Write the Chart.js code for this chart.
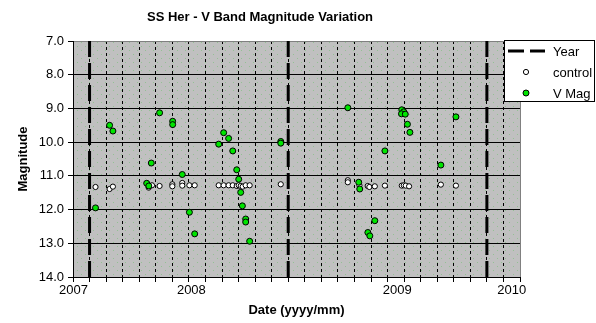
<!DOCTYPE html>
<html>
<head>
<meta charset="utf-8">
<title>SS Her - V Band Magnitude Variation</title>
<script src="https://cdn.jsdelivr.net/npm/chart.js@4/dist/chart.umd.min.js"></script>
<style>
  html, body { margin: 0; padding: 0; background: #fff; }
  canvas { display: block; }
</style>
</head>
<body>
<canvas id="magchart" width="596" height="323"></canvas>
<script>
// x values are months counted from 1 January 2007
const yearMarks = [0, 12, 24];
const dateTicks = ['2007', '2008', '2009', '2010'];
const dateTickPos = [-0.97, 6.15, 18.58, 25.5];

// comparison star
const ctrlDate = [0.36, 1.21, 1.41, 3.57, 3.77, 4.23, 5.0, 5.0, 5.6, 5.6, 6.03, 6.35,
  7.8, 8.1, 8.4, 8.65, 8.89, 9.01, 9.13, 9.25, 9.43, 9.67, 11.55,
  15.6, 15.6, 16.3, 16.8, 16.9, 17.23, 17.84, 18.86, 18.98, 19.1, 19.3, 21.22, 22.13];
const ctrlMag = [11.33, 11.39, 11.32, 11.35, 11.28, 11.30, 11.25, 11.31, 11.21, 11.29, 11.28, 11.28,
  11.28, 11.28, 11.28, 11.28, 11.30, 11.28, 11.30, 11.32, 11.28, 11.28, 11.25,
  11.13, 11.19, 11.28, 11.30, 11.33, 11.31, 11.29, 11.29, 11.28, 11.29, 11.31, 11.26, 11.29];

// SS Her, V band
const vDate = [0.36, 1.21, 1.41, 3.45, 3.58, 3.73, 4.23, 5.02, 5.02, 5.6, 6.03, 6.35,
  7.8, 8.1, 8.4, 8.65, 8.89, 9.01, 9.13, 9.23, 9.43, 9.43, 9.67, 11.55, 11.55,
  15.6, 16.26, 16.32, 16.81, 16.93, 17.23, 17.84, 18.86, 18.98, 18.84, 19.07, 19.2, 19.35, 21.22, 22.13];
const vMag = [11.95, 9.50, 9.67, 11.22, 11.30, 10.62, 9.13, 9.38, 9.48, 10.96, 12.08, 12.72,
  10.06, 9.72, 9.89, 10.26, 10.82, 11.10, 11.49, 11.89, 12.28, 12.37, 12.94, 9.98, 10.03,
  8.98, 11.19, 11.39, 12.68, 12.78, 12.33, 10.26, 9.04, 9.10, 9.16, 9.17, 9.47, 9.71, 10.68, 9.25];

const FONT = "'Liberation Sans', Arial, sans-serif";
const MAG_MIN = 7, MAG_MAX = 14;
const X_MIN = -1, X_MAX = 26;

// vertical year markers, broken apart with null points
const yearLine = [];
yearMarks.forEach(m => {
  yearLine.push({x: m, y: MAG_MIN}, {x: m, y: MAG_MAX}, {x: m, y: null});
});

function dotTile() {
  const c = document.createElement('canvas');
  c.width = 8; c.height = 8;
  const g = c.getContext('2d');
  g.fillStyle = '#c0c0c0';
  g.fillRect(0, 0, 8, 8);
  g.fillStyle = '#94c094';
  g.fillRect(1, 2, 1, 1);
  g.fillRect(5, 6, 1, 1);
  return c;
}

const plotBackground = {
  id: 'plotBackground',
  beforeDraw(chart) {
    const {ctx, chartArea: a} = chart;
    ctx.save();
    ctx.fillStyle = ctx.createPattern(dotTile(), 'repeat');
    ctx.fillRect(a.left, a.top, a.right - a.left, a.bottom - a.top);
    ctx.restore();
  }
};

// boxed legend sitting over the top right corner of the plot
const boxLegend = {
  id: 'boxLegend',
  afterDraw(chart) {
    const ctx = chart.ctx;
    const x0 = 504, y0 = 40, w = 91, h = 62;
    ctx.save();
    ctx.fillStyle = '#fff';
    ctx.fillRect(x0, y0, w, h);
    ctx.strokeStyle = '#000';
    ctx.lineWidth = 1;
    ctx.strokeRect(x0 + 0.5, y0 + 0.5, w - 1, h - 1);
    ctx.font = '13px ' + FONT;
    ctx.textBaseline = 'middle';
    chart.data.datasets.forEach((ds, i) => {
      const y = y0 + 11 + i * 21;
      if (ds.showLine) {
        ctx.strokeStyle = ds.borderColor;
        ctx.lineWidth = ds.borderWidth;
        ctx.setLineDash(ds.borderDash);
        ctx.beginPath();
        ctx.moveTo(508, y);
        ctx.lineTo(545, y);
        ctx.stroke();
        ctx.setLineDash([]);
      } else {
        ctx.beginPath();
        ctx.arc(526, y, ds.pointRadius, 0, Math.PI * 2);
        ctx.fillStyle = ds.backgroundColor;
        ctx.fill();
        ctx.lineWidth = ds.borderWidth;
        ctx.strokeStyle = ds.borderColor;
        ctx.stroke();
      }
      ctx.fillStyle = '#000';
      ctx.fillText(ds.label, 553, y + 1);
    });
    ctx.restore();
  }
};

const ctx = document.getElementById('magchart').getContext('2d');
new Chart(ctx, {
  type: 'scatter',
  data: {
    datasets: [
      {
        label: 'Year',
        data: yearLine,
        showLine: true,
        spanGaps: false,
        borderColor: '#000',
        borderWidth: 3,
        borderDash: [16, 6],
        pointRadius: 0,
        order: 2
      },
      {
        label: 'control',
        data: ctrlDate.map((d, i) => ({x: d, y: ctrlMag[i]})),
        pointStyle: 'circle',
        pointRadius: 2.6,
        backgroundColor: '#ffffff',
        borderColor: '#000',
        borderWidth: 1,
        order: 1
      },
      {
        label: 'V Mag',
        data: vDate.map((d, i) => ({x: d, y: vMag[i]})),
        pointStyle: 'circle',
        pointRadius: 3,
        backgroundColor: '#00e400',
        borderColor: '#000',
        borderWidth: 1,
        order: 0
      }
    ]
  },
  options: {
    responsive: false,
    animation: false,
    devicePixelRatio: 1,
    layout: { padding: { left: 0, right: 76, top: 0, bottom: 0 } },
    plugins: {
      legend: { display: false },
      tooltip: { enabled: false },
      title: {
        display: true,
        text: 'SS Her - V Band Magnitude Variation',
        color: '#000',
        font: { family: FONT, size: 13, weight: 'bold' },
        padding: { top: 10, bottom: 15.4 }
      }
    },
    scales: {
      x: {
        type: 'linear',
        min: X_MIN,
        max: X_MAX,
        afterBuildTicks(axis) {
          const vals = [];
          for (let m = X_MIN; m <= X_MAX; m++) vals.push(m);
          axis.ticks = vals.concat(dateTickPos).sort((a, b) => a - b).map(v => ({value: v}));
        },
        afterFit(scale) { scale.height = 46; },
        ticks: {
          autoSkip: false,
          maxRotation: 0,
          minRotation: 0,
          padding: 1,
          color: '#000',
          font: { family: FONT, size: 13 },
          callback(v) {
            const i = dateTickPos.indexOf(v);
            return i >= 0 ? dateTicks[i] : '';
          }
        },
        grid: {
          lineWidth: 1,
          tickLength: 5,
          color(c) {
            if (!c.tick) return '#000';
            if (dateTickPos.includes(c.tick.value)) return 'rgba(0,0,0,0)';
            return c.tick.value === X_MAX ? '#808080' : '#000';
          },
          tickColor(c) {
            if (c.tick && dateTickPos.includes(c.tick.value)) return 'rgba(0,0,0,0)';
            return '#000';
          }
        },
        border: {
          color: '#000',
          width: 1,
          dash(c) {
            if (!c.tick || c.tick.value === X_MIN || c.tick.value === X_MAX) return [];
            return [3, 3];
          }
        },
        title: {
          display: true,
          text: 'Date (yyyy/mm)',
          color: '#000',
          font: { family: FONT, size: 13, weight: 'bold' },
          padding: { top: 4, bottom: 5 }
        }
      },
      y: {
        reverse: true,
        min: MAG_MIN,
        max: MAG_MAX,
        afterFit(scale) { scale.width = 73; },
        ticks: {
          stepSize: 0.5,
          padding: 4,
          color: '#000',
          font: { family: FONT, size: 13 },
          callback(v) { return Number.isInteger(v) ? v.toFixed(1) : ''; }
        },
        grid: {
          lineWidth: 1,
          tickLength: 5,
          tickColor: '#000',
          color(c) {
            if (c.tick && c.tick.value === MAG_MIN) return '#808080';
            return '#000';
          }
        },
        border: {
          color: '#000',
          width: 1,
          dash(c) {
            if (!c.tick || Number.isInteger(c.tick.value)) return [];
            return [3, 3];
          }
        },
        title: {
          display: true,
          text: 'Magnitude',
          color: '#000',
          font: { family: FONT, size: 13, weight: 'bold' },
          padding: { top: 16, bottom: 4 }
        }
      }
    }
  },
  plugins: [plotBackground, boxLegend]
});
</script>
</body>
</html>
